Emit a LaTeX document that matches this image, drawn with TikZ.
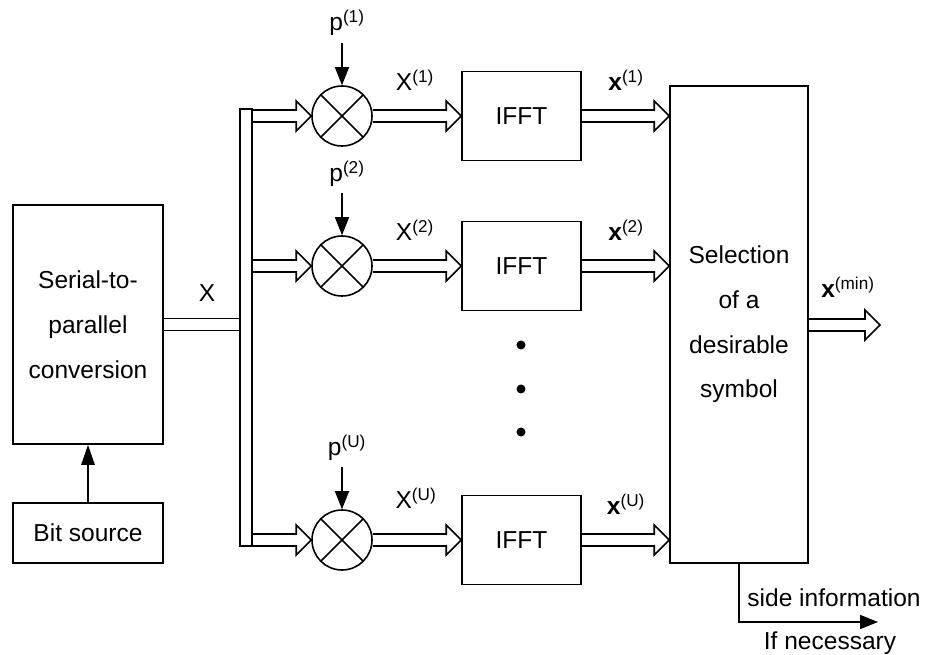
\documentclass[tikz,border=0pt]{standalone}
\usepackage{fontspec}
\setmainfont{Liberation Sans}
\usetikzlibrary{arrows.meta,calc}
\def\pxu{0.75pt}
% wide hollow arrow between two points (horizontal)
\newcommand\fatarrow[2]{%
  \draw let \p1=(#1), \p2=(#2) in
    (\x1,\y1+4.5pt) -- (\x2-11.25pt,\y1+4.5pt) -- (\x2-11.25pt,\y1+11.25pt)
    -- (\x2,\y1) -- (\x2-11.25pt,\y1-11.25pt) -- (\x2-11.25pt,\y1-4.5pt)
    -- (\x1,\y1-4.5pt);}
\begin{document}
\begin{tikzpicture}[x=0.75pt,y=-0.75pt,line width=1.2pt,
  every node/.style={font=\fontsize{18.4}{22}\selectfont},
  box/.style={draw,rectangle,inner sep=0pt},
  mixer/.style={draw,circle,minimum size=60*\pxu,inner sep=0pt,
    path picture={\draw (path picture bounding box.north west) -- (path picture bounding box.south east)
      (path picture bounding box.north east) -- (path picture bounding box.south west);}},
  dotn/.style={circle,fill,minimum size=9*\pxu,inner sep=0pt},
  lbl/.style={inner sep=0pt},
  tip/.style={-{Triangle[length=13.5pt,width=10.5pt]}},
]
\useasboundingbox (0,0) rectangle (927,655);

% blocks
\node[box,minimum width=150*\pxu,minimum height=239*\pxu,align=center,
      font=\fontsize{18.4}{33.75}\selectfont] (sp) at (88,324.5) {Serial-to-\\parallel\\conversion};
\node[box,minimum width=150*\pxu,minimum height=60*\pxu] (bits) at (88,533) {Bit source};
\node[box,minimum width=12*\pxu,minimum height=437*\pxu] (bar) at (246,327.5) {};

\node[mixer] (m1) at (342,116) {};
\node[mixer] (m2) at (342,266) {};
\node[mixer] (mU) at (342,540) {};

\node[box,minimum width=119*\pxu,minimum height=89*\pxu] (f1) at (521.5,116) {IFFT};
\node[box,minimum width=119*\pxu,minimum height=89*\pxu] (f2) at (521.5,266) {IFFT};
\node[box,minimum width=119*\pxu,minimum height=89*\pxu] (fU) at (521.5,540) {IFFT};

\node[box,minimum width=138*\pxu,minimum height=477*\pxu,align=center,
      font=\fontsize{18.4}{33.5}\selectfont] (sel) at (739,324.5) {Selection\\of a\\desirable\\symbol};

% dots
\node[dotn] (d1) at (521,345) {};
\node[dotn] (d2) at (521,389) {};
\node[dotn] (d3) at (521,432) {};

% bus from S/P to bar
\draw let \p1=(sp.east), \p2=(bar.west) in
  (\x1,\y1+4.5pt) -- (\x2,\y1+4.5pt) (\x1,\y1-4.5pt) -- (\x2,\y1-4.5pt);

% fat arrows
\fatarrow{bar.east |- m1}{m1.west}
\fatarrow{bar.east |- m2}{m2.west}
\fatarrow{bar.east |- mU}{mU.west}
\fatarrow{m1.east}{f1.west}
\fatarrow{m2.east}{f2.west}
\fatarrow{mU.east}{fU.west}
\fatarrow{f1.east}{sel.west |- f1}
\fatarrow{f2.east}{sel.west |- f2}
\fatarrow{fU.east}{sel.west |- fU}
\coordinate (xout) at (880,325);
\fatarrow{sel.east |- xout}{xout}

% p arrows
\coordinate (p1s) at (342,43);
\coordinate (p2s) at (342,193);
\coordinate (pUs) at (342,467);
\draw[tip] (p1s) -- (m1.north);
\draw[tip] (p2s) -- (m2.north);
\draw[tip] (pUs) -- (mU.north);

% bit source arrow
\draw[-{Triangle[length=15pt,width=10pt]}] (bits.north) -- (sp.south);

% side information
\coordinate (sio) at (878,622);
\draw[tip] (sel.south) |- (sio);

% labels
\node[lbl] (lX) at (207,293) {X};
\node[lbl] (lp1) at (347,23) {p\textsuperscript{(1)}};
\node[lbl] (lp2) at (347,174) {p\textsuperscript{(2)}};
\node[lbl] (lpU) at (347,448) {p\textsuperscript{(U)}};
\node[lbl] (lX1) at (415,80) {X\textsuperscript{(1)}};
\node[lbl] (lX2) at (415,230) {X\textsuperscript{(2)}};
\node[lbl] (lXU) at (416,498) {X\textsuperscript{(U)}};
\node[lbl] (lx1) at (626,80) {\textbf{x}\textsuperscript{(1)}};
\node[lbl] (lx2) at (626,230) {\textbf{x}\textsuperscript{(2)}};
\node[lbl] (lxU) at (626,504) {\textbf{x}\textsuperscript{(U)}};
\node[lbl] (lxm) at (848,287) {\textbf{x}\textsuperscript{(min)}};
\node[lbl] (lsi) at (834,598) {side information};
\node[lbl] (lif) at (830,643) {If necessary};
\end{tikzpicture}
\end{document}
